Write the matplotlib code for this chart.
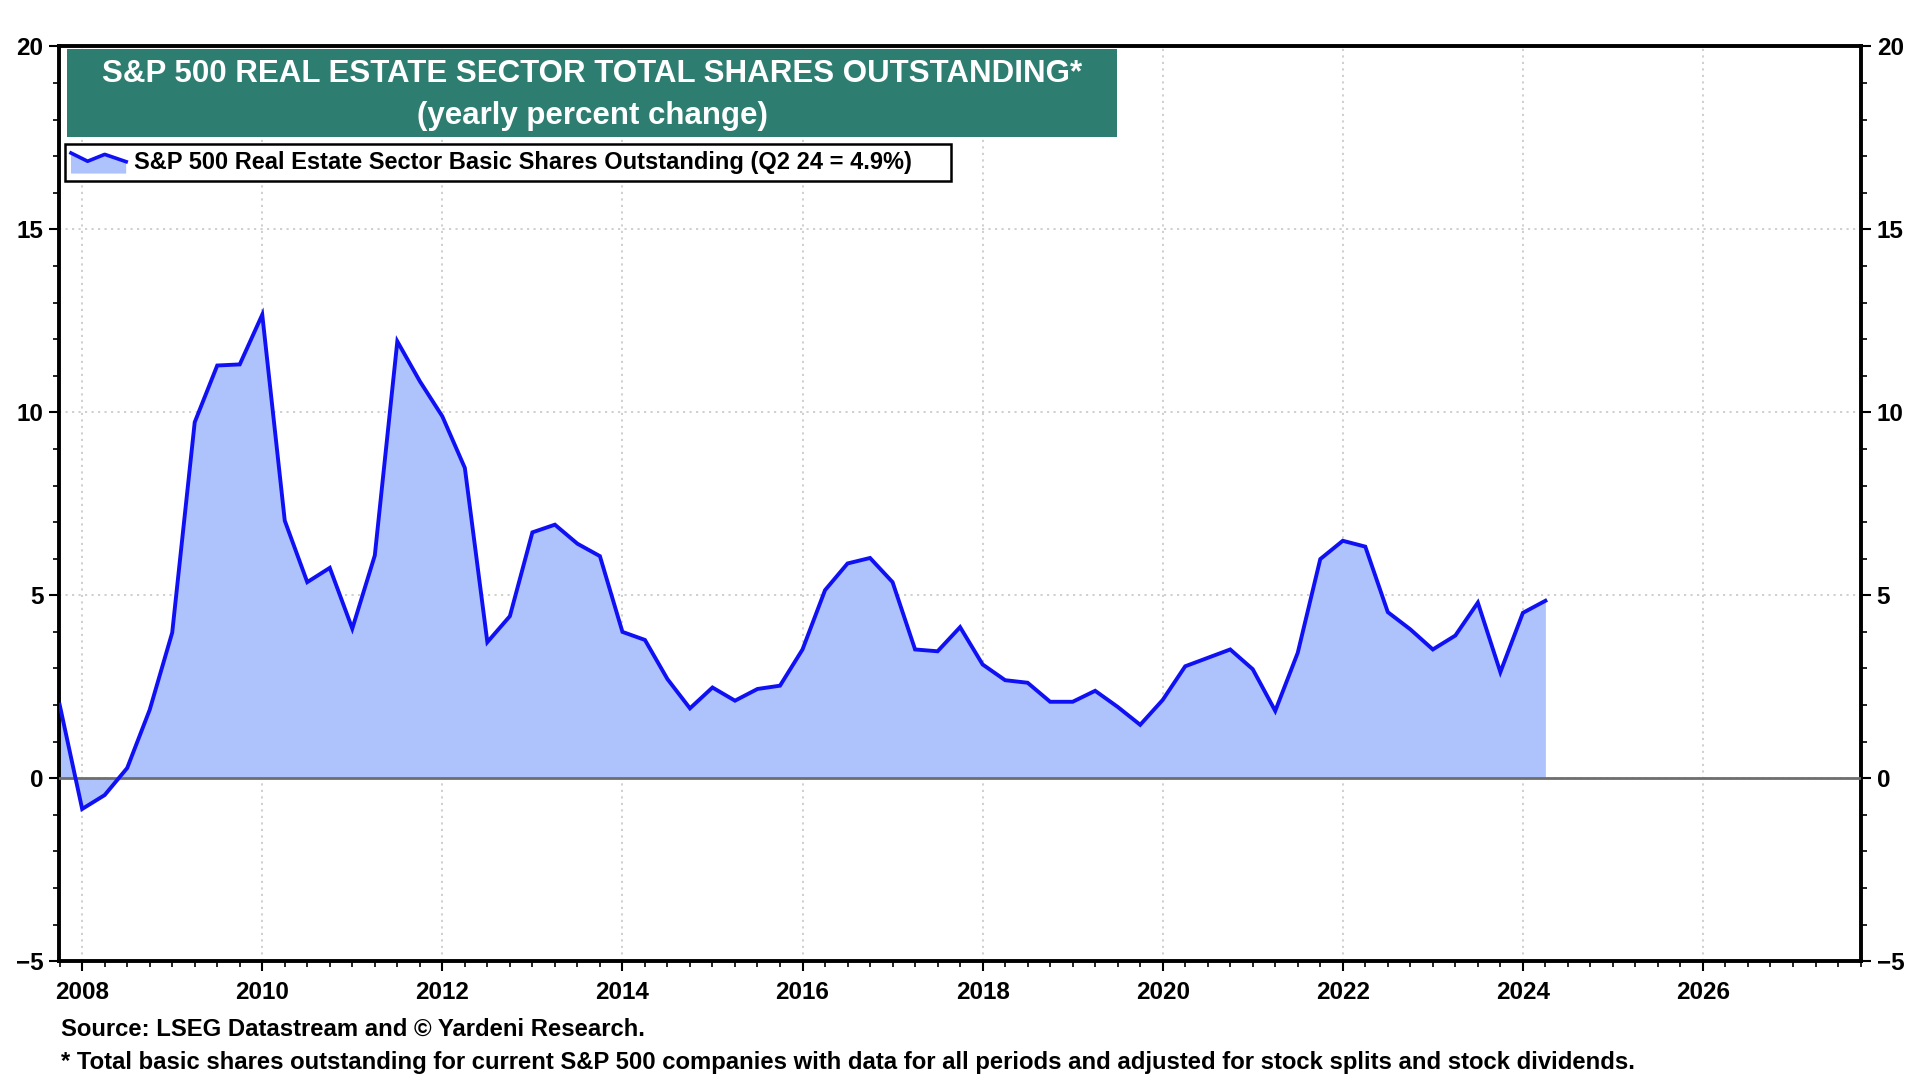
import numpy as np
import matplotlib
matplotlib.use("Agg")
import matplotlib.pyplot as plt
from matplotlib.patches import Rectangle, Polygon
from matplotlib.ticker import MultipleLocator, FixedLocator

plt.rcParams['font.family'] = ['Liberation Sans', 'DejaVu Sans']
plt.rcParams['font.weight'] = 'bold'

# quarterly data, Q4 2007 .. Q2 2024 (yearly % change)
start_year = 2007.75
shares_yoy = [
    2.01, -0.84, -0.46, 0.28, 1.87,          # 2007Q4 - 2008Q4
    3.98, 9.73, 11.28, 11.31,                # 2009
    12.67, 7.04, 5.36, 5.75,                 # 2010
    4.09, 6.09, 11.94, 10.85,                # 2011
    9.89, 8.48, 3.72, 4.43,                  # 2012
    6.72, 6.93, 6.41, 6.07,                  # 2013
    4.00, 3.78, 2.71, 1.91,                  # 2014
    2.48, 2.12, 2.44, 2.53,                  # 2015
    3.52, 5.14, 5.87, 6.02,                  # 2016
    5.36, 3.52, 3.47, 4.13,                  # 2017
    3.11, 2.68, 2.61, 2.09,                  # 2018
    2.09, 2.39, 1.95, 1.46,                  # 2019
    2.14, 3.06, 3.29, 3.52,                  # 2020
    2.98, 1.84, 3.43, 5.99,                  # 2021
    6.49, 6.33, 4.54, 4.07,                  # 2022
    3.52, 3.90, 4.80, 2.90,                  # 2023
    4.52, 4.85,                              # 2024
]
x_labels = ['2008', '2010', '2012', '2014', '2016', '2018', '2020', '2022', '2024', '2026']

title_lines = ["S&P 500 REAL ESTATE SECTOR TOTAL SHARES OUTSTANDING*",
               "(yearly percent change)"]
legend_text = "S&P 500 Real Estate Sector Basic Shares Outstanding (Q2 24 = 4.9%)"
source_text = "Source: LSEG Datastream and \u00a9 Yardeni Research."
note_text = "* Total basic shares outstanding for current S&P 500 companies with data for all periods and adjusted for stock splits and stock dividends."

line_col = '#1010f5'
fill_col = '#aec3fb'
title_bg = '#2e7d71'

x = start_year + 0.25 * np.arange(len(shares_yoy))
y = np.array(shares_yoy)

fig = plt.figure(figsize=(19.2, 10.8), dpi=100)
ax = fig.add_axes([0.0306, 0.110, 0.9389, 0.847])

ax.fill_between(x, y, 0, color=fill_col, lw=0, zorder=2)
ax.plot(x, y, color=line_col, lw=2.8, zorder=4, solid_joinstyle='miter')
ax.axhline(0, color='#6e6e6e', lw=2.0, zorder=3)

ax.set_xlim(2007.74, 2027.76)
ax.set_ylim(-5, 20)

ax.xaxis.set_major_locator(FixedLocator([int(v) for v in x_labels]))
ax.set_xticklabels(x_labels)
ax.xaxis.set_minor_locator(MultipleLocator(0.25))
ax.yaxis.set_major_locator(MultipleLocator(5))
ax.yaxis.set_minor_locator(MultipleLocator(1))

ax.tick_params(axis='both', which='major', direction='out', length=7, width=1.5,
               labelsize=17.5, pad=4)
ax.tick_params(axis='both', which='minor', direction='out', length=4, width=1.2)
ax.tick_params(axis='y', left=True, right=True, labelleft=True, labelright=True,
               which='both')
ax.tick_params(axis='x', pad=7)
for lab in ax.get_xticklabels() + ax.get_yticklabels():
    lab.set_fontweight('bold')

ax.grid(True, which='major', axis='both', color='#cccccc', lw=1.3,
        linestyle=(0, (1.2, 2.4)), zorder=1)
ax.set_axisbelow(True)

for sp in ax.spines.values():
    sp.set_linewidth(2.8)
    sp.set_color('black')

# title box
ax.add_patch(Rectangle((0.0048, 0.901), 0.5825, 0.096, transform=ax.transAxes,
                       facecolor=title_bg, edgecolor='none', zorder=6))
ax.text(0.2960, 0.9695, title_lines[0], transform=ax.transAxes,
        ha='center', va='center', color='white', fontsize=22.5,
        fontweight='bold', zorder=7)
ax.text(0.2960, 0.9235, title_lines[1], transform=ax.transAxes,
        ha='center', va='center', color='white', fontsize=22.5,
        fontweight='bold', zorder=7)

# legend box
ax.add_patch(Rectangle((0.0034, 0.853), 0.4917, 0.0405, transform=ax.transAxes,
                       facecolor='white', edgecolor='black', lw=1.8, zorder=6))
icon_x = [0.0068, 0.0160, 0.0255, 0.0374]
icon_y = [0.8835, 0.8745, 0.8820, 0.8740]
ax.add_patch(Polygon(list(zip(icon_x, icon_y)) + [(0.0374, 0.8610), (0.0068, 0.8610)],
                     closed=True, transform=ax.transAxes, facecolor=fill_col,
                     edgecolor='none', zorder=7))
ax.plot(icon_x, icon_y, transform=ax.transAxes, color=line_col, lw=2.6, zorder=8)
ax.text(0.0420, 0.8730, legend_text, transform=ax.transAxes, ha='left', va='center',
        fontsize=17, fontweight='bold', color='black', zorder=8)

fig.text(0.032, 0.047, source_text, ha='left', va='center', fontsize=17.2,
         fontweight='bold')
fig.text(0.032, 0.016, note_text, ha='left', va='center', fontsize=17.2,
         fontweight='bold')

fig.savefig('out.png', dpi=100)
